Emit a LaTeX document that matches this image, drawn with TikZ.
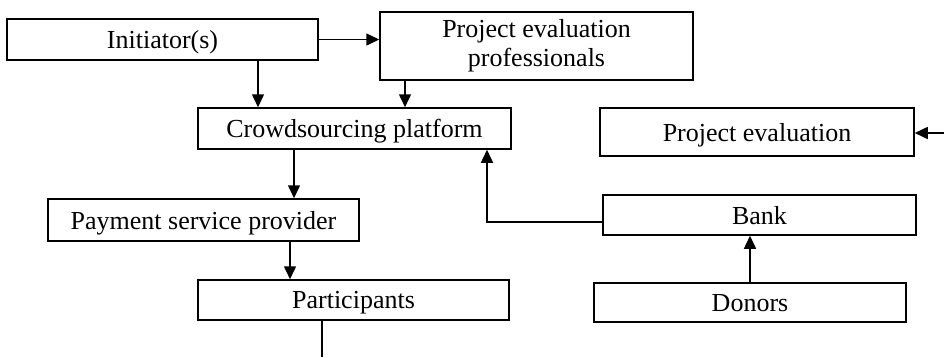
\documentclass[tikz,border=0pt]{standalone}
\usepackage{fontspec}
\setmainfont{Liberation Serif}
\usetikzlibrary{arrows.meta}

\begin{document}
\begin{tikzpicture}[x=1pt, y=-1pt,
                    block/.style={rectangle, draw, line width=1.5pt, minimum width=311pt,
                                  minimum height=41pt, inner sep=2pt, align=center,
                                  text depth=0pt, font=\fontsize{26}{29}\selectfont},
                    >={Triangle[length=13pt, width=12pt]}]
  \useasboundingbox (0,0) rectangle (944,357);
  \node[block] (init) at (162.5,39.5) {Initiator(s)};
  \node[block, minimum width=313pt, minimum height=68pt, text depth=6pt] (pep) at (536.5,46) {Project evaluation\\professionals};
  \node[block, minimum width=313pt] (crowd) at (354.5,128.5) {Crowdsourcing platform};
  \node[block, minimum width=314pt, minimum height=48pt] (peval) at (757,132) {Project evaluation};
  \node[block, minimum height=42pt] (pay) at (203.5,220) {Payment service provider};
  \node[block, minimum height=40pt] (part) at (353.5,300) {Participants};
  \node[block, minimum width=313pt, minimum height=40pt] (bank) at (759.5,215) {Bank};
  \node[block, minimum width=312pt, minimum height=39pt] (donors) at (750,302.5) {Donors};
  \coordinate (evalin) at (944,133);
  \coordinate (partout) at (322,357);
  \begin{scope}[line width=1.5pt]
   \draw[->] (init.east) -- (init.east -| pep.west);
   \draw[->] ([xshift=95.5pt]init.south) -- ([xshift=95.5pt]init.south |- crowd.north);
   \draw[->] ([xshift=-131.5pt]pep.south) -- ([xshift=-131.5pt]pep.south |- crowd.north);
   \draw[->] ([xshift=-60.5pt]crowd.south) -- ([xshift=-60.5pt]crowd.south |- pay.north);
   \draw[->] ([xshift=86.5pt]pay.south) -- ([xshift=86.5pt]pay.south |- part.north);
   \draw (partout |- part.south) -- (partout);
   \draw[->] (evalin) -- (evalin -| peval.east);
   \draw[->] (donors.north) -- (donors.north |- bank.south);
   \draw[->] ([yshift=-7pt]bank.west) -| ([xshift=132.5pt]crowd.south);
  \end{scope}
\end{tikzpicture}
\end{document}
